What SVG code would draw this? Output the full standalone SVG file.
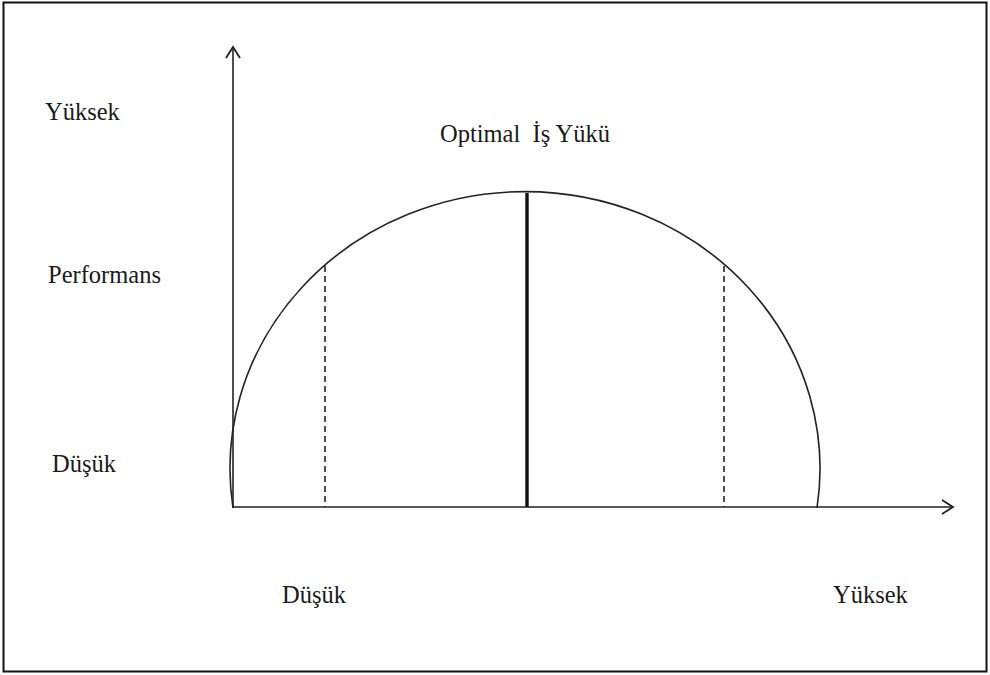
<svg xmlns="http://www.w3.org/2000/svg" width="990" height="675" viewBox="0 0 990 675">
<style>
text{font-family:"Liberation Serif","Times New Roman",serif;font-size:24.5px;fill:#1a1a1a}
.ln{stroke:#222;fill:none;stroke-width:1.6}
.thick{stroke:#111;fill:none;stroke-width:3.4}
.dash{stroke:#222;fill:none;stroke-width:1.6;stroke-dasharray:6,4}
</style>
<defs>
<marker id="arr" markerWidth="16" markerHeight="16" refX="12" refY="8" orient="auto" markerUnits="userSpaceOnUse">
<path d="M1,1 L12,8 L1,15" fill="none" stroke="#222" stroke-width="1.8"/>
</marker>
</defs>
<rect x="0" y="0" width="990" height="675" fill="#fff"/>
<rect x="3.5" y="2.5" width="983" height="669" fill="none" stroke="#111" stroke-width="2"/>
<g id="connectors">
<line class="ln" x1="233" y1="508" x2="233" y2="47" marker-end="url(#arr)"/>
<line class="ln" x1="233" y1="507" x2="953" y2="507" marker-end="url(#arr)"/>
<path class="ln" d="M233,508 A295,277 0 1 1 817,508"/>
<line class="thick" x1="527" y1="193" x2="527" y2="507"/>
<line class="dash" x1="325" y1="266" x2="325" y2="507"/>
<line class="dash" x1="724" y1="266" x2="724" y2="507"/>
</g>
<g id="labels">
<text x="45" y="120">Yüksek</text>
<text x="48" y="283">Performans</text>
<text x="52" y="472">Düşük</text>
<text x="440" y="142" xml:space="preserve">Optimal  İş Yükü</text>
<text x="282" y="603">Düşük</text>
<text x="833" y="603">Yüksek</text>
</g>
</svg>
